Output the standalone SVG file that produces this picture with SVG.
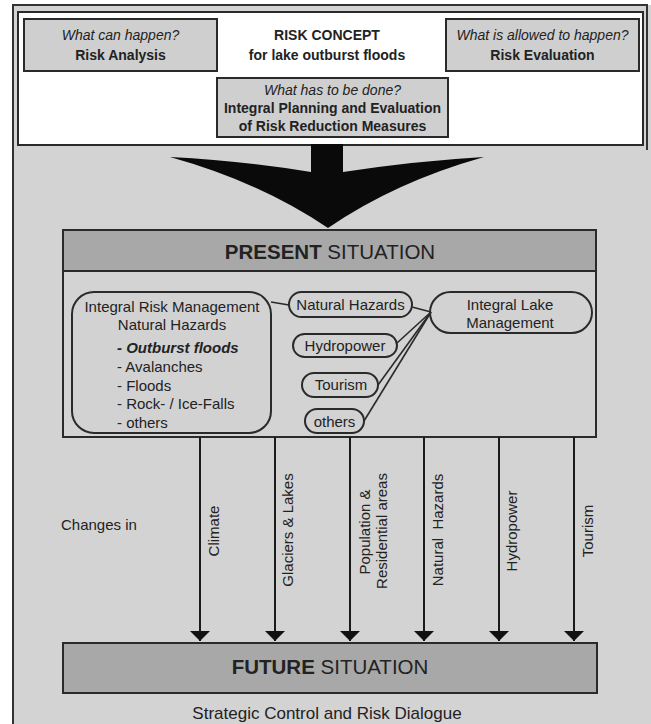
<svg xmlns="http://www.w3.org/2000/svg" width="651" height="724" viewBox="0 0 651 724">
  <style>
    text { font-family: "Liberation Sans", Arial, sans-serif; fill: #222; }
    .box { fill: #cfcfcf; stroke: #2a2a2a; stroke-width: 2; }
    .bar { fill: #a8a8a8; stroke: #2a2a2a; stroke-width: 2; }
    .pill { fill: #d2d2d2; stroke: #2a2a2a; stroke-width: 2; }
    .t14 { font-size: 14px; text-anchor: middle; }
    .t15 { font-size: 15px; }
    .mid { text-anchor: middle; }
    .b { font-weight: bold; }
    .i { font-style: italic; }
    .link { stroke: #2a2a2a; stroke-width: 1.6; fill: none; }
    .flow { stroke: #1a1a1a; stroke-width: 2; fill: none; marker-end: url(#head); }
  </style>
  <defs>
    <marker id="head" viewBox="0 0 10 20" refX="10" refY="10" markerWidth="10" markerHeight="20" markerUnits="userSpaceOnUse" orient="auto">
      <path d="M0,0 L10,10 L0,20 Z" fill="#111"/>
    </marker>
  </defs>

  <!-- page background and frame -->
  <rect x="0" y="0" width="651" height="724" fill="#ffffff"/>
  <rect x="13" y="5" width="640" height="730" fill="#d3d3d3"/>
  <path d="M13,735 L13,5 L647,5 L647,150" fill="none" stroke="#333" stroke-width="2"/>

  <!-- risk concept panel -->
  <g id="risk-concept">
    <rect x="18" y="12" width="625" height="133" fill="#ffffff" stroke="#2a2a2a" stroke-width="2"/>
    <text class="t14 b" x="327" y="40">RISK CONCEPT</text>
    <text class="t14 b" x="327" y="60">for lake outburst floods</text>
  </g>
  <g id="risk-analysis">
    <rect class="box" x="24" y="19" width="193" height="52"/>
    <text class="t14 i" x="120.5" y="40">What can happen?</text>
    <text class="t14 b" x="120.5" y="60">Risk Analysis</text>
  </g>
  <g id="risk-evaluation">
    <rect class="box" x="446" y="19" width="193" height="52"/>
    <text class="t14 i" x="542.5" y="40">What is allowed to happen?</text>
    <text class="t14 b" x="542.5" y="60">Risk Evaluation</text>
  </g>
  <g id="risk-reduction">
    <rect class="box" x="217" y="78" width="231" height="59"/>
    <text class="t14 i" x="332.5" y="95">What has to be done?</text>
    <text class="t14 b" x="332.5" y="113">Integral Planning and Evaluation</text>
    <text class="t14 b" x="332.5" y="131">of Risk Reduction Measures</text>
  </g>

  <!-- big downward arrow -->
  <g id="big-arrow">
    <path d="M311,144 L343,144 L343,172 Q415,161 484,157 Q395,182 328,228 Q260,182 170,157 Q245,161 311,172 Z" fill="#0a0a0a"/>
  </g>

  <!-- present situation -->
  <g id="present-situation">
    <rect x="63" y="271" width="533" height="166" fill="#d3d3d3" stroke="#2a2a2a" stroke-width="2"/>
    <rect class="bar" x="63" y="230" width="533" height="41"/>
    <text class="mid" x="330" y="259" font-size="20.5"><tspan font-weight="bold">PRESENT</tspan> SITUATION</text>
  </g>

  <g id="risk-management">
    <rect class="pill" x="72" y="292" width="199" height="141" rx="22" ry="22"/>
    <text class="t15 mid" x="172" y="312">Integral Risk Management</text>
    <text class="t15 mid" x="172" y="330">Natural Hazards</text>
    <text class="t15 b i" x="117" y="353">- Outburst floods</text>
    <text class="t15" x="117" y="372">- Avalanches</text>
    <text class="t15" x="117" y="391">- Floods</text>
    <text class="t15" x="117" y="409">- Rock- / Ice-Falls</text>
    <text class="t15" x="117" y="428">- others</text>
  </g>

  <g id="natural-hazards">
    <rect class="pill" x="289" y="292" width="123" height="25" rx="12.5" ry="12.5"/>
    <text class="t15 mid" x="350.5" y="310">Natural Hazards</text>
  </g>
  <g id="hydropower">
    <rect class="pill" x="293" y="334" width="104" height="23" rx="11.5" ry="11.5"/>
    <text class="t15 mid" x="345" y="351">Hydropower</text>
  </g>
  <g id="tourism">
    <rect class="pill" x="302" y="373" width="76" height="24" rx="12" ry="12"/>
    <text class="t15 mid" x="341" y="390">Tourism</text>
  </g>
  <g id="others">
    <rect class="pill" x="305" y="409" width="59" height="24" rx="12" ry="12"/>
    <text class="t15 mid" x="334.5" y="427">others</text>
  </g>
  <g id="lake-management">
    <rect class="pill" x="430" y="292" width="162" height="41" rx="20.5" ry="20.5"/>
    <text class="t15 mid" x="510" y="310">Integral Lake</text>
    <text class="t15 mid" x="510" y="328">Management</text>
  </g>

  <!-- connectors -->
  <g id="connectors">
    <line class="link" x1="271" y1="302" x2="289" y2="305"/>
    <line class="link" x1="412" y1="307" x2="431" y2="312"/>
    <line class="link" x1="397" y1="343" x2="431" y2="312"/>
    <line class="link" x1="378" y1="385" x2="431" y2="312"/>
    <line class="link" x1="364" y1="421" x2="431" y2="312"/>

    <line class="flow" x1="200" y1="437" x2="200" y2="641"/>
    <line class="flow" x1="275" y1="437" x2="275" y2="641"/>
    <line class="flow" x1="350" y1="437" x2="350" y2="641"/>
    <line class="flow" x1="424" y1="437" x2="424" y2="641"/>
    <line class="flow" x1="499" y1="437" x2="499" y2="641"/>
    <line class="flow" x1="574" y1="437" x2="574" y2="641"/>
  </g>

  <!-- drivers of change -->
  <g id="changes">
    <text class="t15" x="61" y="530">Changes in</text>
    <text class="t15 mid" transform="translate(219,531) rotate(-90)">Climate</text>
    <text class="t15 mid" transform="translate(293,530) rotate(-90)">Glaciers &amp; Lakes</text>
    <text class="t15 mid" transform="translate(370,532) rotate(-90)">Population &amp;</text>
    <text class="t15 mid" transform="translate(387,531) rotate(-90)">Residential areas</text>
    <text class="t15 mid" transform="translate(443,530) rotate(-90)" xml:space="preserve">Natural  Hazards</text>
    <text class="t15 mid" transform="translate(517,531) rotate(-90)">Hydropower</text>
    <text class="t15 mid" transform="translate(593,531) rotate(-90)">Tourism</text>
  </g>

  <!-- future situation -->
  <g id="future-situation">
    <rect class="bar" x="63" y="643" width="534" height="50"/>
    <text class="mid" x="330" y="674" font-size="20.5"><tspan font-weight="bold">FUTURE</tspan> SITUATION</text>
  </g>

  <text class="mid" x="327" y="719" font-size="17">Strategic Control and Risk Dialogue</text>
</svg>
